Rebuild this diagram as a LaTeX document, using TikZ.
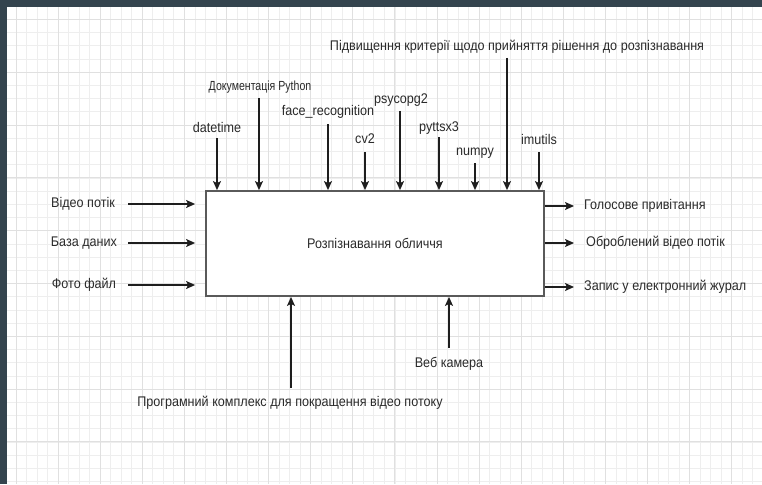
\documentclass[tikz,border=0pt]{standalone}
\usepackage{fontspec}
\setmainfont{Liberation Sans}[FakeStretch=0.9]
\newfontfamily\smallcond{Liberation Sans}[FakeStretch=0.8]
\usetikzlibrary{arrows.meta}
\definecolor{frame}{HTML}{34444E}
\definecolor{gridminor}{HTML}{EEEEEE}
\definecolor{gridmajor}{HTML}{E0E0E0}
\definecolor{txt}{HTML}{2A2A2A}
\definecolor{ink}{HTML}{1E1E1E}
\definecolor{boxline}{HTML}{5A5A5A}
\tikzset{
  lbl/.style={text=txt, inner sep=0pt, font=\fontsize{14}{16}\selectfont},
  smalllbl/.style={text=txt, inner sep=0pt, font=\smallcond\fontsize{13.2}{15}\selectfont},
  arr/.style={draw=ink, line width=1.3pt, -{Stealth[length=9pt,width=8pt,inset=2pt]}},
  funcbox/.style={draw=boxline, line width=1.8pt, fill=white, minimum width=338pt,
    minimum height=105pt, inner sep=0pt, text=txt, font=\fontsize{14}{16}\selectfont}
}
\begin{document}
\begin{tikzpicture}[x=1pt,y=-1pt]
  \useasboundingbox (0,0) rectangle (762,484);
  % canvas and grid
  \fill[white] (0,0) rectangle (762,484);
  \foreach \i in {0,...,72} {
    \pgfmathsetmacro{\gx}{16+10.525*(\i-1)}
    \draw[gridminor, line width=0.8pt] (\gx,7) -- (\gx,484);
  }
  \foreach \j in {0,...,36} {
    \pgfmathsetmacro{\gy}{19.5+13.2*(\j-1)}
    \draw[gridminor, line width=0.8pt] (7,\gy) -- (762,\gy);
  }
  \foreach \i in {0,...,18} {
    \pgfmathsetmacro{\gx}{16+42.1*\i}
    \draw[gridmajor, line width=1pt] (\gx,7) -- (\gx,484);
  }
  \foreach \j in {0,...,9} {
    \pgfmathsetmacro{\gy}{19.5+52.8*\j}
    \draw[gridmajor, line width=1pt] (7,\gy) -- (762,\gy);
  }
  % dark frame on top and left
  \fill[frame] (0,0) rectangle (762,7);
  \fill[frame] (0,0) rectangle (7,484);

  % function block
  \node[funcbox] (box) at (375,243.5) {Розпізнавання обличчя};

  % inputs (left)
  \node[lbl] (in1) at (83,204) {Відео потік};
  \node[lbl] (in2) at (84,243) {База даних};
  \node[lbl] (in3) at (84,285) {Фото файл};
  \coordinate (in1s) at (128,204);
  \coordinate (in2s) at (128,243);
  \coordinate (in3s) at (128,285);
  \draw[arr, shorten >=10pt] (in1s) -- (in1s -| box.west);
  \draw[arr, shorten >=10pt] (in2s) -- (in2s -| box.west);
  \draw[arr, shorten >=10pt] (in3s) -- (in3s -| box.west);

  % outputs (right)
  \coordinate (out1s) at (544,206);
  \coordinate (out2s) at (544,243);
  \coordinate (out3s) at (544,287);
  \node[lbl, anchor=west] (out1) at (584,206) {Голосове привітання};
  \node[lbl, anchor=west] (out2) at (586,243) {Оброблений відео потік};
  \node[lbl, anchor=west] (out3) at (584,287) {Запис у електронний журал};
  \draw[arr, shorten >=10pt] (out1s -| box.east) -- (out1.west);
  \draw[arr, shorten >=12pt] (out2s -| box.east) -- (out2.west);
  \draw[arr, shorten >=10pt] (out3s -| box.east) -- (out3.west);

  % controls (top)
  \node[lbl] (c1) at (217,127) {datetime};
  \node[smalllbl] (c2) at (260,87) {Документація Python};
  \node[lbl] (c3) at (328,112) {face\_recognition};
  \node[lbl] (c4) at (365,139) {cv2};
  \node[lbl] (c5) at (401,100) {psycopg2};
  \node[lbl] (c6) at (439,128) {pyttsx3};
  \node[lbl] (c7) at (475,153) {numpy};
  \node[lbl] (c8) at (517,47) {Підвищення критерії щодо прийняття рішення до розпізнавання};
  \node[lbl] (c9) at (539,139) {imutils};
  \coordinate (c1s) at (217,138);
  \coordinate (c2s) at (259,98);
  \coordinate (c3s) at (328,124);
  \coordinate (c4s) at (365,152);
  \coordinate (c5s) at (400,111);
  \coordinate (c6s) at (439,137);
  \coordinate (c7s) at (475,163);
  \coordinate (c8s) at (507,58);
  \coordinate (c9s) at (539,152);
  \foreach \c in {c1s,c2s,c3s,c4s,c5s,c6s,c7s,c8s,c9s}
    \draw[arr] (\c) -- (\c |- box.north);

  % mechanisms (bottom)
  \node[lbl] (m1) at (290,403) {Програмний комплекс для покращення відео потоку};
  \node[lbl] (m2) at (449,364) {Веб камера};
  \coordinate (m1s) at (291,388);
  \coordinate (m2s) at (449,348);
  \draw[arr] (m1s) -- (m1s |- box.south);
  \draw[arr] (m2s) -- (m2s |- box.south);
\end{tikzpicture}
\end{document}
